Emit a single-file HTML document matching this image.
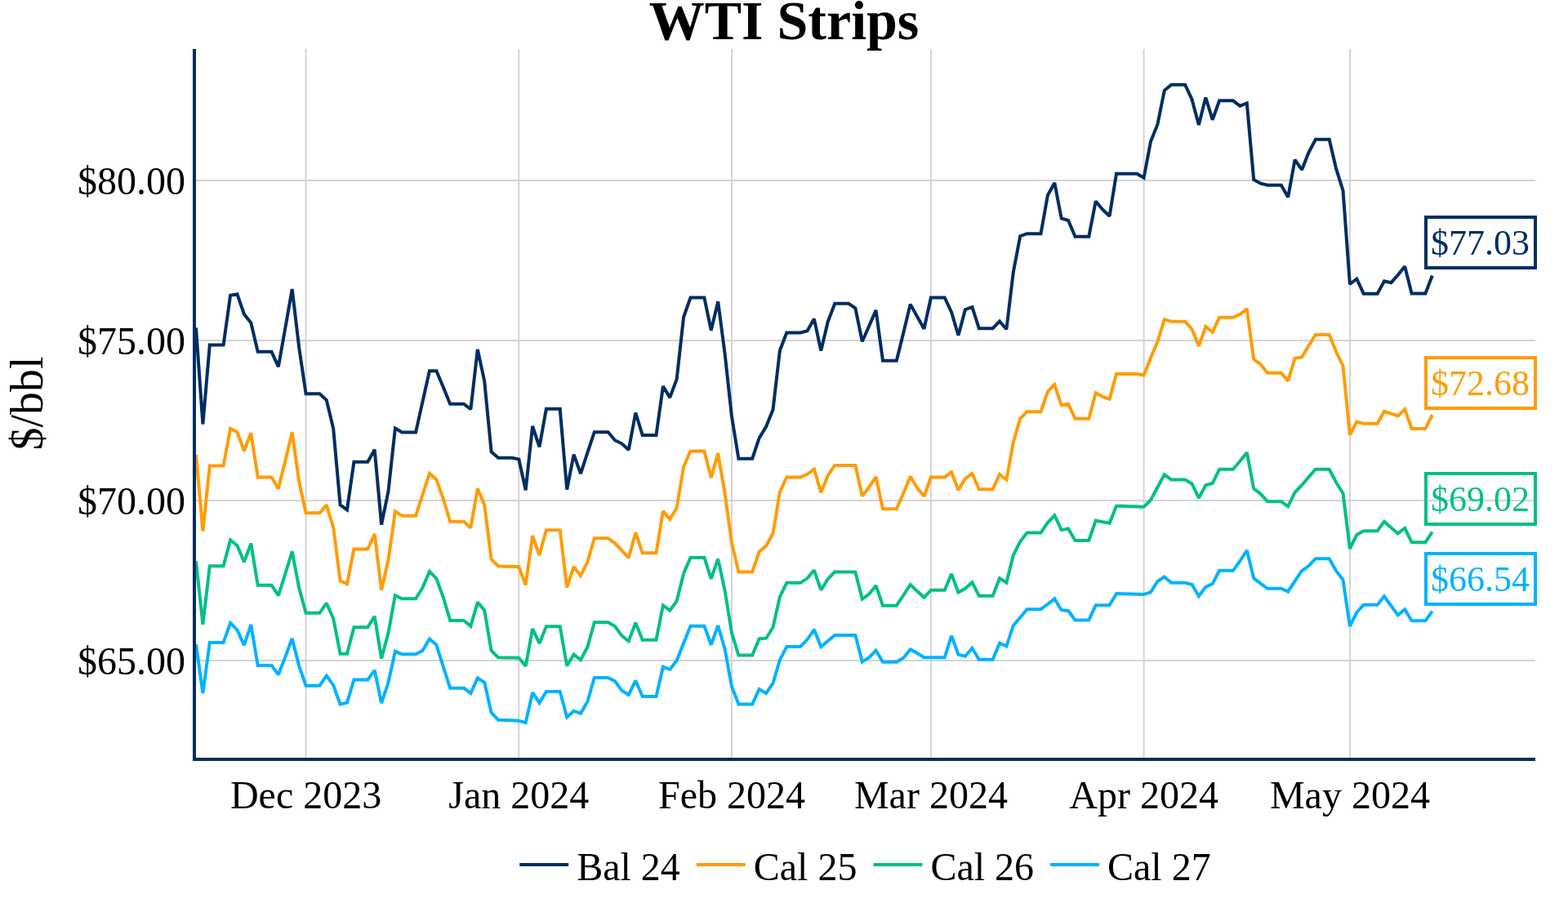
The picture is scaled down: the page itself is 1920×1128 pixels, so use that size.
<!DOCTYPE html>
<html lang="en">
<head>
<meta charset="utf-8">
<title>WTI Strips</title>
<style>
html,body{margin:0;padding:0;background:#fff;}
body{width:1920px;height:1128px;overflow:hidden;}
svg{display:block;}
text{font-family:"Liberation Serif","Times New Roman",Times,serif;}
.tick{font-size:48px;fill:#000;}
.ttl{font-size:68px;font-weight:bold;fill:#000;}
.ytl{font-size:56px;fill:#000;}
.ann{font-size:44px;}
.ln{fill:none;stroke-width:4;stroke-linejoin:miter;stroke-miterlimit:2;stroke-linecap:butt;}
</style>
</head>
<body>
<svg width="1920" height="1128" viewBox="0 0 1920 1128">
<rect x="0" y="0" width="1920" height="1128" fill="#ffffff"/>
<g stroke="#D3D3D3" stroke-width="2">
<line x1="374.56" y1="60" x2="374.56" y2="928"/>
<line x1="635.28" y1="60" x2="635.28" y2="928"/>
<line x1="896.00" y1="60" x2="896.00" y2="928"/>
<line x1="1139.90" y1="60" x2="1139.90" y2="928"/>
<line x1="1400.62" y1="60" x2="1400.62" y2="928"/>
<line x1="1652.92" y1="60" x2="1652.92" y2="928"/>
<line x1="240" y1="221" x2="1880" y2="221"/>
<line x1="240" y1="417" x2="1880" y2="417"/>
<line x1="240" y1="613" x2="1880" y2="613"/>
<line x1="240" y1="809" x2="1880" y2="809"/>
</g>
<polyline class="ln" stroke="#002D62" points="240.0,401.4 248.4,519.7 256.8,422.5 265.2,422.5 273.6,422.5 282.1,361.7 290.5,360.3 298.9,384.7 307.3,395.3 315.7,430.8 324.1,430.8 332.5,430.8 340.9,449.2 349.3,401.8 357.7,354.1 366.2,425.8 374.6,482.2 383.0,482.2 391.4,482.2 399.8,490.0 408.2,525.0 416.6,618.3 425.0,624.4 433.4,565.8 441.8,565.8 450.3,565.8 458.7,550.6 467.1,642.5 475.5,601.7 483.9,524.5 492.3,529.5 500.7,529.5 509.1,529.5 517.5,491.8 525.9,454.2 534.4,454.2 542.8,474.2 551.2,494.7 559.6,494.7 568.0,494.7 576.4,501.3 584.8,428.0 593.2,466.7 601.6,553.3 610.1,560.8 618.5,560.8 626.9,560.8 635.3,562.5 643.7,600.3 652.1,521.9 660.5,547.3 668.9,500.8 677.3,500.8 685.7,500.8 694.2,599.7 702.6,556.6 711.0,580.2 719.4,554.4 727.8,529.2 736.2,529.2 744.6,529.2 753.0,539.2 761.4,543.3 769.8,550.9 778.3,505.5 786.7,533.0 795.1,533.0 803.5,533.0 811.9,473.1 820.3,486.9 828.7,464.2 837.1,388.3 845.5,364.5 853.9,364.5 862.4,364.5 870.8,404.6 879.2,369.2 887.6,433.3 896.0,510.0 904.4,561.7 912.8,561.7 921.2,561.7 929.6,536.7 938.1,522.5 946.5,501.7 954.9,429.2 963.3,407.5 971.7,407.5 980.1,407.5 988.5,405.3 996.9,390.6 1005.3,429.6 1013.7,394.2 1022.2,371.7 1030.6,371.7 1039.0,371.7 1047.4,377.5 1055.8,418.3 1064.2,399.2 1072.6,379.9 1081.0,441.7 1089.4,441.7 1097.8,441.7 1106.3,407.5 1114.7,372.6 1123.1,387.7 1131.5,402.8 1139.9,364.5 1148.3,364.5 1156.7,364.5 1165.1,382.5 1173.5,410.7 1181.9,379.2 1190.4,376.0 1198.8,402.2 1207.2,402.2 1215.6,402.2 1224.0,393.4 1232.4,403.3 1240.8,333.3 1249.2,289.2 1257.6,286.2 1266.1,286.2 1274.5,286.2 1282.9,239.2 1291.3,223.9 1299.7,267.5 1308.1,270.0 1316.5,289.7 1324.9,289.7 1333.3,289.7 1341.7,246.4 1350.2,256.7 1358.6,264.8 1367.0,212.8 1375.4,212.8 1383.8,212.8 1392.2,212.8 1400.6,217.8 1409.0,173.3 1417.4,152.5 1425.8,110.8 1434.3,103.7 1442.7,103.7 1451.1,103.7 1459.5,121.7 1467.9,152.9 1476.3,119.4 1484.7,146.7 1493.1,123.3 1501.5,123.3 1509.9,123.3 1518.4,129.8 1526.8,126.3 1535.2,220.0 1543.6,224.7 1552.0,226.7 1560.4,226.7 1568.8,226.7 1577.2,241.4 1585.6,195.7 1594.1,207.9 1602.5,186.7 1610.9,170.8 1619.3,170.8 1627.7,170.8 1636.1,206.7 1644.5,233.3 1652.9,348.0 1661.3,341.5 1669.7,359.7 1678.2,359.7 1686.6,359.7 1695.0,344.3 1703.4,346.2 1711.8,336.8 1720.2,326.2 1728.6,359.5 1737.0,359.5 1745.4,359.5 1753.8,337.5"/>
<polyline class="ln" stroke="#FF9C06" points="240.0,557.0 248.4,650.5 256.8,570.5 265.2,570.5 273.6,570.5 282.1,525.0 290.5,529.2 298.9,552.2 307.3,530.3 315.7,584.5 324.1,584.5 332.5,584.5 340.9,598.5 349.3,564.6 357.7,529.6 366.2,590.0 374.6,628.3 383.0,628.3 391.4,628.3 399.8,618.4 408.2,645.8 416.6,711.3 425.0,715.1 433.4,672.5 441.8,672.5 450.3,672.5 458.7,654.1 467.1,722.8 475.5,685.8 483.9,626.6 492.3,631.7 500.7,631.7 509.1,631.7 517.5,605.7 525.9,579.8 534.4,587.5 542.8,610.8 551.2,638.8 559.6,638.8 568.0,638.8 576.4,646.4 584.8,598.4 593.2,618.3 601.6,685.0 610.1,693.3 618.5,693.7 626.9,693.7 635.3,694.2 643.7,716.4 652.1,656.1 660.5,680.1 668.9,649.2 677.3,649.2 685.7,649.2 694.2,719.4 702.6,694.2 711.0,705.1 719.4,688.3 727.8,659.2 736.2,659.2 744.6,659.2 753.0,665.3 761.4,674.2 769.8,683.2 778.3,652.2 786.7,677.2 795.1,677.2 803.5,677.2 811.9,625.9 820.3,635.9 828.7,622.0 837.1,571.7 845.5,552.5 853.9,552.5 862.4,552.5 870.8,584.9 879.2,555.1 887.6,604.2 896.0,665.0 904.4,700.5 912.8,700.5 921.2,700.5 929.6,675.8 938.1,668.7 946.5,653.3 954.9,602.5 963.3,584.5 971.7,584.5 980.1,584.5 988.5,580.8 996.9,574.5 1005.3,603.3 1013.7,582.5 1022.2,570.0 1030.6,570.0 1039.0,570.0 1047.4,570.0 1055.8,607.5 1064.2,596.7 1072.6,584.0 1081.0,623.3 1089.4,623.3 1097.8,623.3 1106.3,604.0 1114.7,583.6 1123.1,597.5 1131.5,607.8 1139.9,584.5 1148.3,584.5 1156.7,584.5 1165.1,578.2 1173.5,600.2 1181.9,586.2 1190.4,579.8 1198.8,599.2 1207.2,599.2 1215.6,599.2 1224.0,581.0 1232.4,587.7 1240.8,541.7 1249.2,512.8 1257.6,504.2 1266.1,504.2 1274.5,504.2 1282.9,479.7 1291.3,471.1 1299.7,496.3 1308.1,494.7 1316.5,512.8 1324.9,512.8 1333.3,512.8 1341.7,481.3 1350.2,485.8 1358.6,488.7 1367.0,458.0 1375.4,458.0 1383.8,458.0 1392.2,458.0 1400.6,459.5 1409.0,438.3 1417.4,418.3 1425.8,391.2 1434.3,393.8 1442.7,393.8 1451.1,393.8 1459.5,403.0 1467.9,423.8 1476.3,400.0 1484.7,406.8 1493.1,388.8 1501.5,388.8 1509.9,388.8 1518.4,385.0 1526.8,378.2 1535.2,440.0 1543.6,446.3 1552.0,456.7 1560.4,456.7 1568.8,456.7 1577.2,466.6 1585.6,438.7 1594.1,437.5 1602.5,423.3 1610.9,410.0 1619.3,410.0 1627.7,410.0 1636.1,430.8 1644.5,448.0 1652.9,532.5 1661.3,516.5 1669.7,518.8 1678.2,518.8 1686.6,518.8 1695.0,503.7 1703.4,506.7 1711.8,509.5 1720.2,501.4 1728.6,525.0 1737.0,525.0 1745.4,525.0 1753.8,508.0"/>
<polyline class="ln" stroke="#00BF87" points="240.0,687.4 248.4,764.7 256.8,693.3 265.2,693.3 273.6,693.3 282.1,661.4 290.5,668.3 298.9,688.3 307.3,665.6 315.7,716.7 324.1,716.7 332.5,716.7 340.9,729.3 349.3,702.9 357.7,675.5 366.2,720.0 374.6,750.8 383.0,750.8 391.4,750.8 399.8,738.7 408.2,757.5 416.6,800.8 425.0,800.8 433.4,768.3 441.8,768.3 450.3,768.3 458.7,754.8 467.1,806.6 475.5,775.0 483.9,729.2 492.3,733.3 500.7,733.3 509.1,733.3 517.5,719.7 525.9,699.8 534.4,708.7 542.8,731.7 551.2,760.0 559.6,760.0 568.0,760.0 576.4,767.0 584.8,737.6 593.2,747.5 601.6,796.7 610.1,805.3 618.5,805.5 626.9,805.5 635.3,805.8 643.7,815.8 652.1,770.1 660.5,787.9 668.9,767.2 677.3,767.2 685.7,767.2 694.2,815.5 702.6,801.4 711.0,808.2 719.4,792.5 727.8,762.2 736.2,762.2 744.6,762.2 753.0,767.0 761.4,778.7 769.8,785.1 778.3,762.8 786.7,783.7 795.1,783.7 803.5,783.7 811.9,741.4 820.3,747.6 828.7,735.8 837.1,702.5 845.5,683.0 853.9,682.9 862.4,682.8 870.8,708.9 879.2,684.4 887.6,723.3 896.0,775.0 904.4,802.5 912.8,802.5 921.2,802.5 929.6,782.5 938.1,781.7 946.5,768.3 954.9,730.8 963.3,713.8 971.7,713.8 980.1,713.8 988.5,708.3 996.9,698.3 1005.3,722.7 1013.7,709.2 1022.2,700.3 1030.6,700.5 1039.0,700.5 1047.4,700.8 1055.8,733.7 1064.2,727.5 1072.6,717.2 1081.0,741.7 1089.4,741.7 1097.8,741.7 1106.3,729.0 1114.7,716.0 1123.1,724.0 1131.5,731.8 1139.9,722.8 1148.3,722.8 1156.7,722.8 1165.1,702.9 1173.5,725.6 1181.9,720.8 1190.4,713.3 1198.8,729.7 1207.2,729.7 1215.6,729.7 1224.0,708.3 1232.4,713.5 1240.8,680.0 1249.2,663.3 1257.6,652.5 1266.1,652.5 1274.5,652.5 1282.9,640.0 1291.3,631.3 1299.7,649.1 1308.1,647.5 1316.5,662.0 1324.9,662.0 1333.3,662.0 1341.7,637.6 1350.2,639.2 1358.6,640.7 1367.0,619.7 1375.4,619.8 1383.8,620.2 1392.2,620.5 1400.6,620.8 1409.0,612.5 1417.4,596.7 1425.8,581.3 1434.3,587.5 1442.7,587.5 1451.1,587.5 1459.5,592.5 1467.9,610.0 1476.3,594.2 1484.7,592.0 1493.1,574.7 1501.5,574.7 1509.9,574.7 1518.4,564.7 1526.8,554.2 1535.2,598.3 1543.6,605.0 1552.0,614.2 1560.4,614.2 1568.8,614.2 1577.2,620.3 1585.6,603.0 1594.1,594.2 1602.5,584.2 1610.9,574.7 1619.3,574.7 1627.7,574.7 1636.1,590.8 1644.5,604.2 1652.9,672.0 1661.3,655.0 1669.7,650.3 1678.2,650.3 1686.6,650.3 1695.0,638.7 1703.4,646.2 1711.8,653.4 1720.2,646.8 1728.6,664.2 1737.0,664.2 1745.4,664.2 1753.8,651.5"/>
<polyline class="ln" stroke="#00B2FF" points="240.0,789.0 248.4,849.1 256.8,787.0 265.2,787.0 273.6,787.0 282.1,762.9 290.5,771.7 298.9,790.2 307.3,765.2 315.7,815.0 324.1,815.0 332.5,815.0 340.9,826.2 349.3,804.6 357.7,782.0 366.2,815.8 374.6,839.7 383.0,839.7 391.4,839.7 399.8,827.6 408.2,839.2 416.6,862.6 425.0,860.5 433.4,832.5 441.8,832.5 450.3,832.5 458.7,820.8 467.1,861.1 475.5,835.8 483.9,797.8 492.3,801.3 500.7,801.3 509.1,801.3 517.5,796.7 525.9,782.6 534.4,790.0 542.8,816.7 551.2,842.8 559.6,842.8 568.0,842.8 576.4,849.1 584.8,830.5 593.2,835.8 601.6,872.8 610.1,881.7 618.5,882.0 626.9,882.3 635.3,882.8 643.7,885.1 652.1,848.2 660.5,860.9 668.9,847.0 677.3,847.0 685.7,847.0 694.2,878.4 702.6,870.7 711.0,873.8 719.4,859.2 727.8,830.0 736.2,830.0 744.6,830.0 753.0,834.2 761.4,845.8 769.8,850.9 778.3,833.5 786.7,853.0 795.1,853.0 803.5,853.0 811.9,816.7 820.3,819.9 828.7,808.7 837.1,787.7 845.5,766.7 853.9,766.7 862.4,766.7 870.8,789.7 879.2,766.1 887.6,795.0 896.0,840.8 904.4,862.5 912.8,862.5 921.2,862.5 929.6,844.1 938.1,849.1 946.5,837.0 954.9,808.3 963.3,792.0 971.7,792.0 980.1,792.0 988.5,783.3 996.9,771.1 1005.3,792.1 1013.7,785.0 1022.2,778.0 1030.6,778.0 1039.0,778.0 1047.4,778.0 1055.8,810.6 1064.2,805.3 1072.6,796.6 1081.0,810.8 1089.4,810.8 1097.8,810.8 1106.3,805.8 1114.7,795.4 1123.1,800.0 1131.5,805.3 1139.9,805.3 1148.3,805.3 1156.7,805.3 1165.1,778.6 1173.5,801.7 1181.9,803.7 1190.4,793.8 1198.8,807.8 1207.2,807.8 1215.6,807.8 1224.0,787.7 1232.4,791.6 1240.8,766.2 1249.2,756.2 1257.6,746.2 1266.1,746.2 1274.5,746.2 1282.9,740.0 1291.3,733.3 1299.7,747.2 1308.1,748.0 1316.5,759.5 1324.9,759.5 1333.3,759.5 1341.7,741.2 1350.2,741.2 1358.6,741.2 1367.0,727.0 1375.4,727.2 1383.8,727.5 1392.2,727.8 1400.6,728.0 1409.0,725.3 1417.4,712.0 1425.8,706.5 1434.3,713.8 1442.7,713.8 1451.1,713.8 1459.5,715.8 1467.9,730.2 1476.3,718.9 1484.7,715.0 1493.1,698.8 1501.5,698.8 1509.9,698.8 1518.4,687.0 1526.8,674.0 1535.2,708.3 1543.6,714.7 1552.0,720.8 1560.4,720.8 1568.8,720.8 1577.2,724.6 1585.6,711.7 1594.1,699.2 1602.5,693.0 1610.9,684.2 1619.3,684.2 1627.7,684.2 1636.1,699.2 1644.5,710.0 1652.9,767.0 1661.3,750.0 1669.7,740.8 1678.2,740.8 1686.6,740.8 1695.0,730.3 1703.4,742.0 1711.8,753.4 1720.2,746.4 1728.6,760.3 1737.0,760.3 1745.4,760.3 1753.8,748.7"/>
<rect x="236" y="60" width="4" height="872" fill="#002D62"/>
<rect x="236" y="928" width="1644" height="4" fill="#002D62"/>
<text class="ttl" x="960" y="48.3" text-anchor="middle">WTI Strips</text>
<text class="tick" x="227" y="238" text-anchor="end">$80.00</text>
<text class="tick" x="227" y="434" text-anchor="end">$75.00</text>
<text class="tick" x="227" y="630" text-anchor="end">$70.00</text>
<text class="tick" x="227" y="826" text-anchor="end">$65.00</text>
<text class="tick" x="374.6" y="990" text-anchor="middle">Dec 2023</text>
<text class="tick" x="635.3" y="990" text-anchor="middle">Jan 2024</text>
<text class="tick" x="896.0" y="990" text-anchor="middle">Feb 2024</text>
<text class="tick" x="1139.9" y="990" text-anchor="middle">Mar 2024</text>
<text class="tick" x="1400.6" y="990" text-anchor="middle">Apr 2024</text>
<text class="tick" x="1652.9" y="990" text-anchor="middle">May 2024</text>
<text class="ytl" transform="translate(52,494) rotate(-90)" text-anchor="middle">$/bbl</text>
<rect x="1746" y="266" width="134" height="62" fill="none" stroke="#002D62" stroke-width="4"/>
<text class="ann" x="1812.5" y="311.75" text-anchor="middle" fill="#002D62">$77.03</text>
<rect x="1746" y="438" width="134" height="62" fill="none" stroke="#FF9C06" stroke-width="4"/>
<text class="ann" x="1812.5" y="483.75" text-anchor="middle" fill="#FF9C06">$72.68</text>
<rect x="1746" y="580" width="134" height="62" fill="none" stroke="#00BF87" stroke-width="4"/>
<text class="ann" x="1812.5" y="625.75" text-anchor="middle" fill="#00BF87">$69.02</text>
<rect x="1746" y="678" width="134" height="62" fill="none" stroke="#00B2FF" stroke-width="4"/>
<text class="ann" x="1812.5" y="723.75" text-anchor="middle" fill="#00B2FF">$66.54</text>
<line x1="636.2" y1="1059" x2="696.2" y2="1059" stroke="#002D62" stroke-width="4"/>
<text class="tick" x="706.2" y="1078">Bal 24</text>
<line x1="852.8" y1="1059" x2="912.8" y2="1059" stroke="#FF9C06" stroke-width="4"/>
<text class="tick" x="922.8" y="1078">Cal 25</text>
<line x1="1069.4" y1="1059" x2="1129.4" y2="1059" stroke="#00BF87" stroke-width="4"/>
<text class="tick" x="1139.4" y="1078">Cal 26</text>
<line x1="1286.0" y1="1059" x2="1346.0" y2="1059" stroke="#00B2FF" stroke-width="4"/>
<text class="tick" x="1356.0" y="1078">Cal 27</text>
</svg>
</body>
</html>
